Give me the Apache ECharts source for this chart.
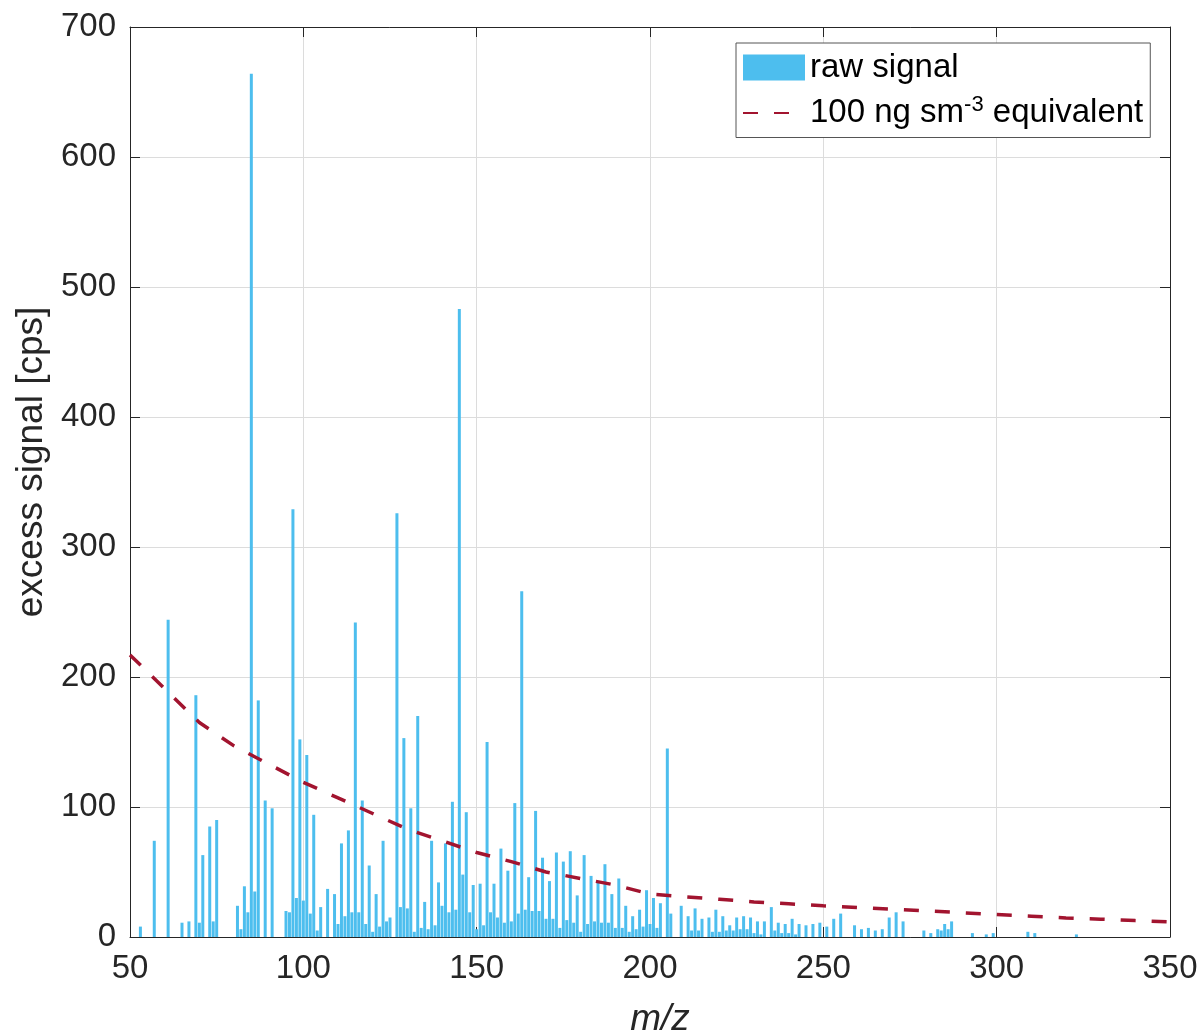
<!DOCTYPE html>
<html>
<head>
<meta charset="utf-8">
<script src="https://cdn.jsdelivr.net/npm/echarts@6/dist/echarts.min.js"></script>
<style>
  html, body { margin: 0; padding: 0; background: #fff; }
  #draw { width: 1203px; height: 1030px; }
</style>
</head>
<body>
<div id="draw"></div>
<script>
// m/z positions and raw excess signal [cps]
var mzValues = [53, 57, 61, 65, 67, 69, 70, 71, 73, 74, 75, 81, 82, 83, 84, 85, 86, 87, 89, 91,
	95, 96, 97, 98, 99, 100, 101, 102, 103, 104, 105, 107, 109, 110, 111, 112, 113, 114, 115, 116,
	117, 118, 119, 120, 121, 122, 123, 124, 125, 127, 128, 129, 130, 131, 132, 133, 134, 135, 136, 137,
	138, 139, 140, 141, 142, 143, 144, 145, 146, 147, 148, 149, 150, 151, 152, 153, 154, 155, 156, 157,
	158, 159, 160, 161, 162, 163, 164, 165, 166, 167, 168, 169, 170, 171, 172, 173, 174, 175, 176, 177,
	178, 179, 180, 181, 182, 183, 184, 185, 186, 187, 188, 189, 190, 191, 192, 193, 194, 195, 196, 197,
	198, 199, 200, 201, 202, 203, 205, 206, 209, 211, 212, 213, 214, 215, 217, 218, 219, 220, 221, 222,
	223, 224, 225, 226, 227, 228, 229, 230, 231, 232, 233, 235, 236, 237, 238, 239, 240, 241, 242, 243,
	245, 247, 249, 251, 253, 255, 259, 261, 263, 265, 267, 269, 271, 273, 279, 281, 283, 284, 285, 286,
	287, 293, 297, 299, 309, 311, 323];
var signalValues = [8, 74, 244, 11, 12, 186, 11, 63, 85, 12, 90, 24, 6, 39, 19, 664, 35, 182, 105, 99,
	20, 19, 329, 30, 152, 28, 140, 18, 94, 5, 23, 37, 33, 10, 72, 16, 82, 19, 242, 19,
	105, 10, 55, 4, 33, 8, 74, 12, 15, 326, 23, 153, 22, 99, 4, 170, 7, 27, 6, 74,
	9, 42, 24, 72, 19, 104, 21, 483, 48, 96, 19, 40, 6, 41, 9, 150, 19, 41, 15, 68,
	11, 51, 12, 103, 18, 266, 21, 46, 20, 97, 20, 61, 14, 43, 14, 65, 7, 58, 13, 66,
	11, 32, 4, 63, 10, 47, 12, 42, 11, 56, 11, 33, 7, 45, 7, 24, 4, 16, 6, 21,
	8, 36, 10, 30, 7, 26, 145, 18, 24, 16, 5, 22, 5, 14, 15, 4, 21, 4, 16, 5,
	9, 5, 15, 6, 16, 6, 15, 3, 12, 2, 12, 23, 5, 11, 3, 10, 3, 14, 2, 10,
	9, 10, 11, 8, 14, 18, 9, 6, 7, 5, 6, 15, 19, 12, 5, 3, 6, 5, 10, 6,
	12, 3, 2, 3, 4, 3, 2];

// 100 ng sm-3 equivalent curve
var refMz = [50, 60, 70, 80, 90, 100, 110, 120, 130, 140, 150, 160, 170, 180, 190, 200,
	210, 220, 230, 240, 250, 260, 270, 280, 290, 300, 310, 320, 330, 340, 350];
var refValues = [217, 191, 165, 147, 133, 119, 107, 95, 83, 74, 65, 58, 50, 45, 40, 33,
	31, 29, 27, 25.5, 24, 22.7, 21.3, 20, 18.7, 17.3, 16, 14.7, 13.7, 12.6, 11.6];

var xTicks = { min: 50, max: 350, interval: 50 };
var yTicks = { min: 0, max: 700, interval: 100 };

var axisColor = '#262626';
var font = 'Liberation Sans';

var barData = mzValues.map(function(m, i) { return [m, signalValues[i]]; });
var refData = refMz.map(function(m, i) { return [m, refValues[i]]; });

var myChart = echarts.init(document.getElementById('draw'));

var baseX = {
	type: 'value', min: xTicks.min, max: xTicks.max, interval: xTicks.interval,
	axisLine: { show: true, onZero: false, lineStyle: { color: axisColor, width: 1 } },
	axisTick: { show: true, inside: true, length: 10, lineStyle: { color: axisColor } }
};
var baseY = {
	type: 'value', min: yTicks.min, max: yTicks.max, interval: yTicks.interval,
	axisLine: { show: true, lineStyle: { color: axisColor, width: 1 } },
	axisTick: { show: true, inside: true, length: 10, lineStyle: { color: axisColor } }
};

option = {
	animation: false,
	backgroundColor: '#fff',
	grid: { left: 130, right: 33, top: 27, bottom: 93, outerBoundsMode: 'none', containLabel: false },
	legend: {
		orient: 'vertical',
		left: 736,
		top: 43,
		padding: [8, 7, 8, 6],
		itemGap: 10,
		itemWidth: 62,
		itemHeight: 26,
		borderColor: '#555',
		borderWidth: 1,
		backgroundColor: '#fff',
		textStyle: {
			fontFamily: font, fontSize: 33, color: '#000',
			rich: {
				n: { fontFamily: font, fontSize: 33, color: '#000' },
				sup: { fontFamily: font, fontSize: 22, color: '#000', verticalAlign: 'bottom', padding: [0, 0, 16, 0] }
			}
		},
		formatter: function(name) {
			if (name === 'ref') {
				return '{n|100 ng sm}{sup|-3}{n| equivalent}';
			}
			return name;
		},
		data: [
			{ name: 'raw signal', icon: 'rect' },
			{ name: 'ref', itemStyle: { color: 'rgba(0,0,0,0)', borderColor: 'rgba(0,0,0,0)', borderWidth: 0 } }
		]
	},
	xAxis: [
		Object.assign({}, baseX, {
			position: 'bottom',
			name: 'm/z',
			nameLocation: 'middle',
			nameGap: 64,
			nameTextStyle: { fontFamily: font, fontSize: 37, fontStyle: 'italic', color: axisColor, padding: [0, 0, 0, 20] },
			axisLabel: { margin: 15, fontFamily: font, fontSize: 33, color: axisColor },
			splitLine: { show: true, lineStyle: { color: '#dcdcdc', width: 1 } }
		}),
		Object.assign({}, baseX, {
			position: 'top',
			axisLabel: { show: false },
			splitLine: { show: false }
		})
	],
	yAxis: [
		Object.assign({}, baseY, {
			position: 'left',
			name: 'excess signal [cps]',
			nameLocation: 'middle',
			nameGap: 78,
			nameTextStyle: { fontFamily: font, fontSize: 37, color: axisColor, padding: [0, 0, 0, 40] },
			axisLabel: { margin: 14, fontFamily: font, fontSize: 33, color: axisColor },
			splitLine: { show: true, lineStyle: { color: '#dcdcdc', width: 1 } }
		}),
		Object.assign({}, baseY, {
			position: 'right',
			axisLabel: { show: false },
			splitLine: { show: false }
		})
	],
	series: [
		{
			name: 'raw signal',
			type: 'bar',
			xAxisIndex: 0,
			yAxisIndex: 0,
			barWidth: 3,
			itemStyle: { color: '#4DBEEE' },
			data: barData
		},
		{
			name: 'ref',
			type: 'line',
			xAxisIndex: 0,
			yAxisIndex: 0,
			symbol: 'none',
			lineStyle: { color: '#A2142F', width: 3.5, type: [15, 16] },
			itemStyle: { color: '#A2142F' },
			data: refData,
			z: 3
		}
	]
};
myChart.setOption(option);
</script>
</body>
</html>
